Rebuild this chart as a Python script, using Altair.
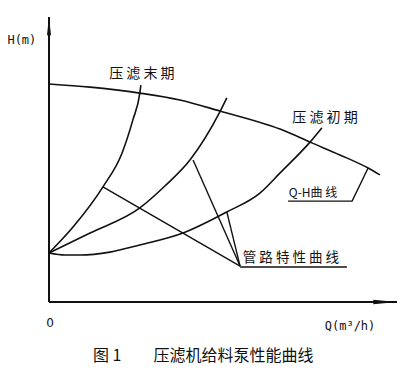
import altair as alt
import pandas as pd

# ---- data (Q in % of axis length, H in % of axis height) ----
qh_q = [0, 11.8, 26.1, 37.6, 49.1, 67.8, 75.0, 83.6, 91.7, 95.1]
qh_h = [76.5, 75.4, 73.3, 70.9, 67.0, 60.0, 56.1, 51.6, 47.0, 44.6]

late_q = [0, 6.9, 15.5, 21.0, 24.1, 26.1, 26.4]          # 压滤末期
late_h = [17.2, 26.3, 40.4, 52.3, 63.9, 73.3, 76.1]

mid_q = [0, 11.8, 26.1, 33.3, 40.5, 49.1, 51.1]
mid_h = [17.2, 24.2, 33.0, 40.7, 49.8, 66.7, 71.6]

early_q = [0, 4.6, 8.9, 17.5, 26.1, 38.5, 51.1, 60.6, 66.4, 75.0, 78.4]  # 压滤初期
early_h = [17.2, 16.5, 16.5, 17.5, 20.0, 24.2, 31.6, 38.2, 45.3, 56.1, 61.1]

# leader lines
leader_pipe_q = [[54.9, 15.5], [54.9, 41.4], [54.9, 51.1], [54.9, 85.6]]
leader_pipe_h = [[12.6, 40.4], [12.6, 49.8], [12.6, 31.6], [12.3, 12.3]]
leader_qh_q = [[68.7, 87.1, 91.7]]
leader_qh_h = [[35.4, 35.4, 47.0]]

curves = [("QH", qh_q, qh_h), ("late", late_q, late_h),
          ("mid", mid_q, mid_h), ("early", early_q, early_h)]
rows = []
for name, qs, hs in curves:
    for i, (q, h) in enumerate(zip(qs, hs)):
        rows.append({"curve": name, "i": i, "Q": q, "H": h})
df_curves = pd.DataFrame(rows)

rows = []
k = 0
for qs_list, hs_list in [(leader_pipe_q, leader_pipe_h), (leader_qh_q, leader_qh_h)]:
    for qs, hs in zip(qs_list, hs_list):
        for i, (q, h) in enumerate(zip(qs, hs)):
            rows.append({"seg": k, "i": i, "Q": q, "H": h})
        k += 1
df_leaders = pd.DataFrame(rows)

df_axes = pd.DataFrame([
    {"seg": "x", "i": 0, "Q": 0, "H": 0}, {"seg": "x", "i": 1, "Q": 100, "H": 0},
    {"seg": "y", "i": 0, "Q": 0, "H": 0}, {"seg": "y", "i": 1, "Q": 0, "H": 100},
])

xs = alt.Scale(domain=[0, 100], nice=False, zero=False)
ys = alt.Scale(domain=[0, 100], nice=False, zero=False)
X = alt.X("Q:Q", scale=xs, axis=None)
Y = alt.Y("H:Q", scale=ys, axis=None)

curve_layer = alt.Chart(df_curves).mark_line(
    interpolate="monotone", color="#111", strokeWidth=1.6
).encode(X, Y, detail="curve:N", order="i:Q")

leader_layer = alt.Chart(df_leaders).mark_line(
    color="#111", strokeWidth=1.4
).encode(X, Y, detail="seg:N", order="i:Q")

axes_layer = alt.Chart(df_axes).mark_line(
    color="#111", strokeWidth=2
).encode(X, Y, detail="seg:N", order="i:Q")

df_arrows = pd.DataFrame([
    {"Q": 0, "H": 96.8, "dir": "up"},
    {"Q": 96.6, "H": 0, "dir": "right"},
])
arrow_up = alt.Chart(df_arrows[df_arrows.dir == "up"]).mark_point(
    shape="M0,-1L0.22,1L-0.22,1Z", size=340, filled=True, color="#111", opacity=1
).encode(X, Y)
arrow_right = alt.Chart(df_arrows[df_arrows.dir == "right"]).mark_point(
    shape="M1,0L-1,0.2L-1,-0.2Z", size=560, filled=True, color="#111", opacity=1
).encode(X, Y)

cjk = "Noto Sans CJK SC"
mono = "DejaVu Sans Mono"

labels_cjk = pd.DataFrame([
    {"Q": 26.7, "H": 80.0, "t": "压 滤 末 期"},
    {"Q": 79.3, "H": 64.6, "t": "压 滤 初 期"},
])
lab1 = alt.Chart(labels_cjk).mark_text(
    font=cjk, fontSize=14, color="#111", align="center", baseline="middle"
).encode(X, Y, text="t:N")

labels_left = pd.DataFrame([
    {"Q": 55.7, "H": 15.6, "t": "管 路 特 性 曲 线"},
])
lab2 = alt.Chart(labels_left).mark_text(
    font=cjk, fontSize=13.5, color="#111", align="left", baseline="middle"
).encode(X, Y, text="t:N")

lab3 = alt.Chart(pd.DataFrame([{"Q": 68.9, "H": 38.4, "t": "Q-H曲 线"}])).mark_text(
    font=cjk, fontSize=12, color="#111", align="left", baseline="middle"
).encode(X, Y, text="t:N")

labels_mono = pd.DataFrame([
    {"Q": -7.8, "H": 91.9, "t": "H(m)"},
    {"Q": 86.5, "H": -8.4, "t": "Q(m³/h)"},
])
lab4 = alt.Chart(labels_mono).mark_text(
    font=mono, fontSize=12, color="#111", align="center", baseline="middle"
).encode(X, Y, text="t:N")

lab_zero = alt.Chart(pd.DataFrame([{"Q": 0.3, "H": -7.4, "t": "0"}])).mark_text(
    font="DejaVu Sans", fontSize=12, color="#111", align="center", baseline="middle"
).encode(X, Y, text="t:N")

caption = alt.Chart(pd.DataFrame([{"Q": 44.3, "H": -18.9,
                                   "t": "图\u00a01\u3000\u3000压滤机给料泵性能曲线"}])).mark_text(
    font=cjk, fontSize=16, color="#111", align="center", baseline="middle"
).encode(X, Y, text="t:N")

chart = alt.layer(
    axes_layer, arrow_up, arrow_right, curve_layer, leader_layer,
    lab1, lab2, lab3, lab4, lab_zero, caption
).properties(
    width=348, height=285,
    autosize=alt.AutoSizeParams(type="none"),
    padding={"left": 41, "top": 9, "right": 12, "bottom": 64},
    background="white",
).configure_view(stroke=None)

chart.save("out.html", embed_options={"renderer": "svg", "actions": False})
